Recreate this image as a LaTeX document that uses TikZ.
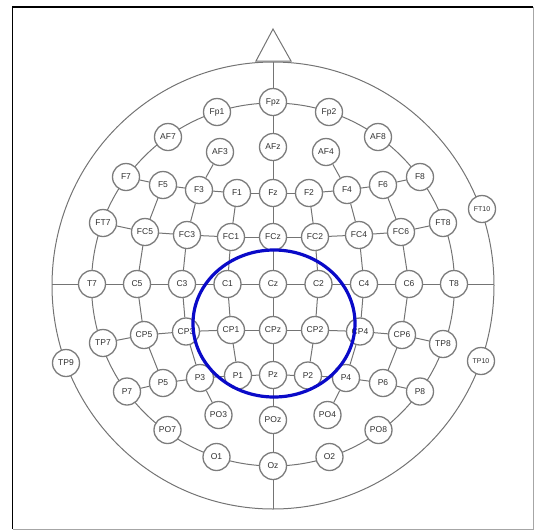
\documentclass[tikz,border=0pt]{standalone}
\usepackage{fontspec}
\setmainfont{Liberation Sans}
\definecolor{wiregray}{HTML}{747474}
\definecolor{rimgray}{HTML}{7C7C7C}
\definecolor{txtgray}{HTML}{303030}
\definecolor{markblue}{RGB}{10,10,200}
\tikzset{
  wire/.style={draw=wiregray,line width=1pt},
  el/.style={circle,draw=rimgray,line width=1.3pt,fill=white,minimum size=27pt,inner sep=0pt,
    font=\fontsize{8.5}{9}\selectfont,text=txtgray},
  elsmall/.style={el,font=\fontsize{7}{8}\selectfont},
  roi/.style={draw=markblue,line width=3.2pt}
}
\begin{document}
\begin{tikzpicture}[x=1pt,y=-1pt]
\useasboundingbox (0,0) rectangle (536,531);
% frame
\draw[black,line width=1.5pt] (12.5,529) -- (12.5,7) -- (533,7);
\draw[gray!70,line width=1pt] (533,7) -- (533,529) -- (12.5,529);
% head outline, ring and midlines
\draw[wire] (273,285.5) ellipse [x radius=221, y radius=223.5];
\draw[wire] (273,284.5) circle [radius=181.5];
\draw[wire] (273,62) -- (273,509);
\draw[wire] (52,284) -- (494,284);
\draw[wire] (256,61) -- (273,29) -- (291,61) -- cycle;
% electrodes
\foreach \n/\x/\y in {
  Fpz/273/102, Fp1/217/112, Fp2/329/112,
  AF7/168/137, AF8/378/137, AF3/220/152, AF4/326/152, AFz/273/147,
  F7/126/177, F8/420/177, F5/163/185, F6/383/185, F3/199/190, F4/347/190,
  F1/237/193, F2/309/193, Fz/273/193,
  FT7/103/223, FT8/443/223,
  FC5/145/232, FC6/401/232, FC3/187/235, FC4/359/235, FC1/231/237, FC2/315/237, FCz/273/237,
  T7/92/284, T8/454/284, C5/137/284, C6/409/284, C3/182/284, C4/364/284,
  C1/227.5/284, C2/318.5/284, Cz/273/284,
  TP7/103/343, TP8/443/344, TP9/66/363,
  CP5/144/335, CP6/402/335, CP3/186/331.5, CP4/360/331.5, CP1/231/330, CP2/315/330, CPz/273/330,
  P7/127/391.5, P8/420/391.5, P5/163/383, P6/383/383, P3/200/378, P4/346/378,
  P1/238/375.5, P2/308/375.5, Pz/273/375,
  PO7/167.5/430, PO8/378.5/430, PO3/218.5/415, PO4/327.5/415, POz/273/420,
  O1/216.5/457, O2/329.5/457, Oz/273/466}
  \node[el] (\n) at (\x,\y) {\n};
\node[elsmall] (FT10) at (482,209) {FT10};
\node[elsmall] (TP10) at (481,361) {TP10};
% rows
\foreach \a/\b in {F7/F5,F5/F3,F3/F1,F1/Fz,Fz/F2,F2/F4,F4/F6,F6/F8,
  FT7/FC5,FC5/FC3,FC3/FC1,FC1/FCz,FCz/FC2,FC2/FC4,FC4/FC6,FC6/FT8,
  TP7/CP5,CP5/CP3,CP3/CP1,CP1/CPz,CPz/CP2,CP2/CP4,CP4/CP6,CP6/TP8,
  P7/P5,P5/P3,P3/P1,P1/Pz,Pz/P2,P2/P4,P4/P6,P6/P8}
  \draw[wire] (\a) -- (\b);
% columns
\foreach \a/\b in {AF3/F3,F3/FC3,FC3/C3,C3/CP3,CP3/P3,P3/PO3,
  AF4/F4,F4/FC4,FC4/C4,C4/CP4,CP4/P4,P4/PO4,
  F5/FC5,FC5/C5,C5/CP5,CP5/P5,
  F6/FC6,FC6/C6,C6/CP6,CP6/P6,
  F1/FC1,FC1/C1,C1/CP1,CP1/P1,
  F2/FC2,FC2/C2,C2/CP2,CP2/P2}
  \draw[wire] (\a) -- (\b);
% region of interest
\draw[roi] (274,323.5) ellipse [x radius=81, y radius=73.5];
\end{tikzpicture}
\end{document}
